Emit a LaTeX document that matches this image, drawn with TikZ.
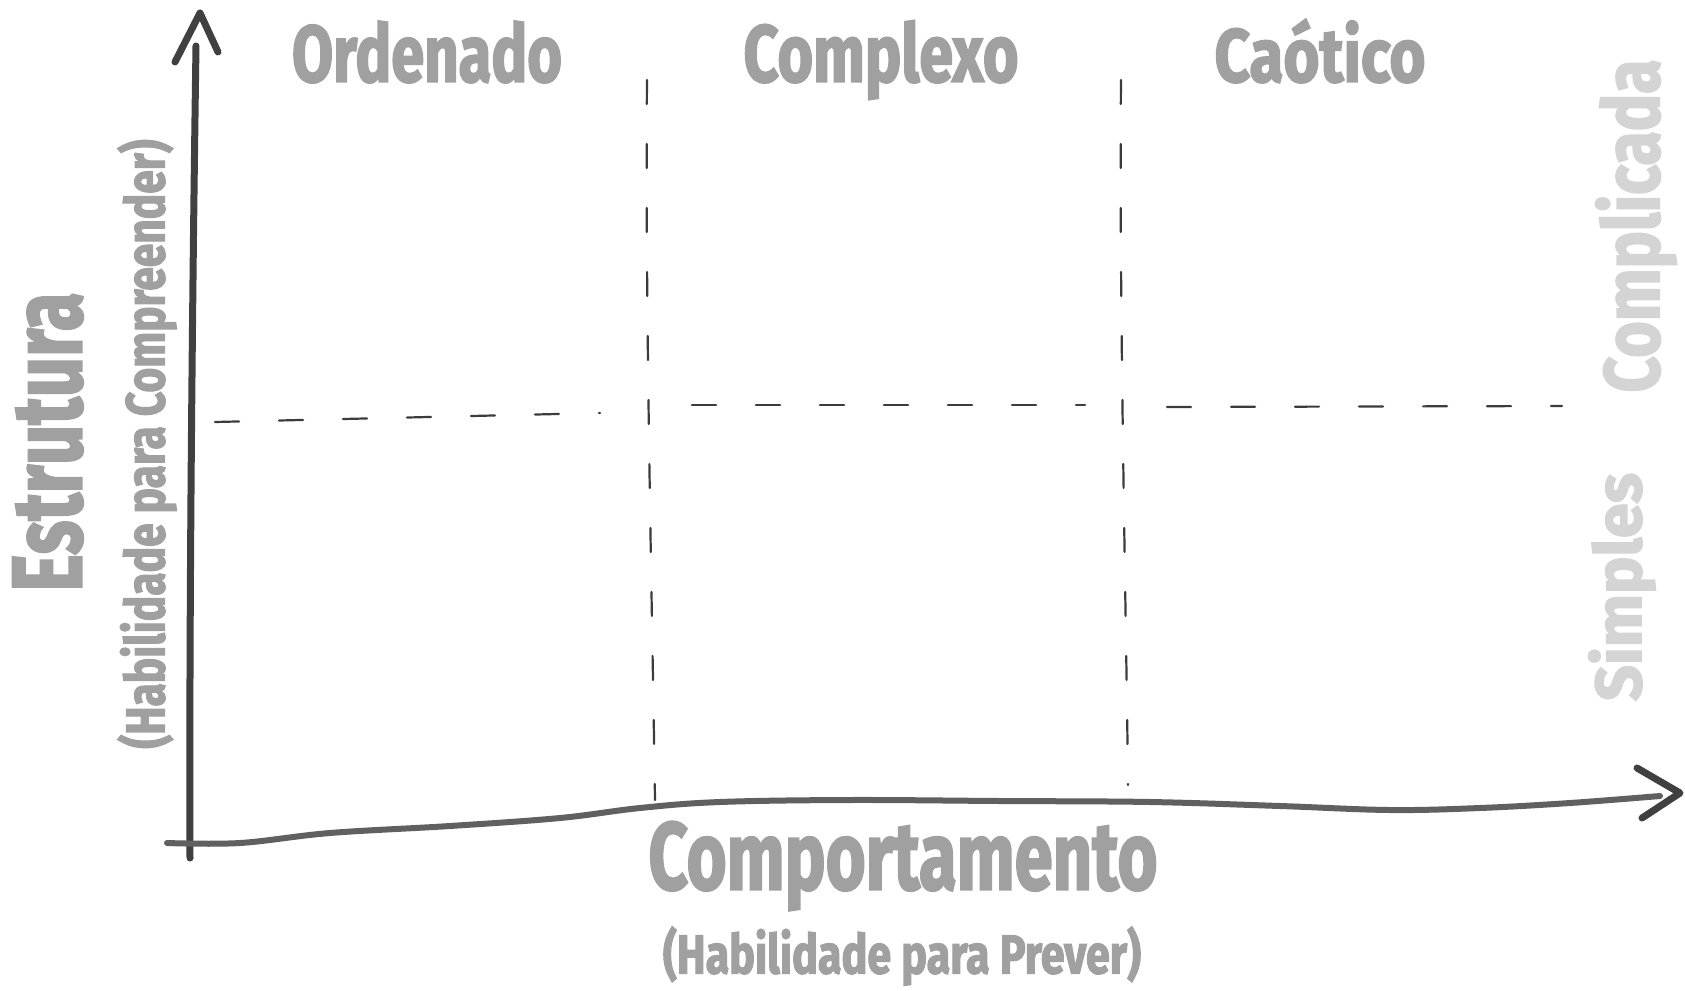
\documentclass[tikz,border=0pt]{standalone}
\usepackage{fontspec}
\usepackage{graphicx}
\newfontfamily\hand{Fira Sans}[BoldFeatures={FakeBold=2.5}]
\definecolor{txtgray}{HTML}{A0A0A0}
\definecolor{lightgray2}{HTML}{D4D4D4}
\definecolor{yaxisgray}{HTML}{404040}
\definecolor{xaxisgray}{HTML}{606060}
\definecolor{dashgray}{HTML}{3C3C3C}
\newcommand{\fitw}[3]{\resizebox*{#1}{#2}{\hand\bfseries #3}}
\tikzset{
  lbl/.style={inner sep=0pt, outer sep=0pt, text=txtgray},
  lbllight/.style={inner sep=0pt, outer sep=0pt, text=lightgray2},
  yaxis/.style={line width=3.5pt, draw=yaxisgray, line cap=round, line join=round},
  xaxis/.style={line width=3pt, draw=xaxisgray, line cap=round, line join=round},
  gridline/.style={line width=1.1pt, draw=dashgray, dash pattern=on 12pt off 20pt, line cap=round}
}
\begin{document}
\begin{tikzpicture}[x=0.5pt,y=-0.5pt]
\fill[white] (0,0) rectangle (1685,990);
\useasboundingbox (0,0) rectangle (1685,990);

% coordinates
\coordinate (ybot) at (190,858);
\coordinate (ytop) at (196,46);
\coordinate (yhead) at (200,13);
\coordinate (yl) at (175,62);
\coordinate (yr) at (218,52);
\coordinate (xstart) at (167,843);
\coordinate (xend) at (1660,796);
\coordinate (xhead) at (1680,793);
\coordinate (xu) at (1637,768);
\coordinate (xd) at (1642,818);

% grid dashed lines
\coordinate (h1a) at (215,422); \coordinate (h1b) at (600,413);
\coordinate (h2a) at (692,405); \coordinate (h2b) at (1085,405);
\coordinate (h3a) at (1167,407); \coordinate (h3b) at (1562,406);
\coordinate (v1a) at (647,80); \coordinate (v1b) at (655,800);
\coordinate (v2a) at (1121,80); \coordinate (v2b) at (1128,785);
\draw[gridline] (h1a) -- (h1b);
\draw[gridline] (h2a) -- (h2b);
\draw[gridline] (h3a) -- (h3b);
\draw[gridline] (v1a) .. controls (645,300) and (652,600) .. (v1b);
\draw[gridline] (v2a) .. controls (1119,300) and (1126,600) .. (v2b);

% axes
\draw[yaxis] (ybot) .. controls (189,600) and (193,250) .. (ytop);
\draw[yaxis] (yl) -- (yhead) -- (yr);
\draw[xaxis] plot[smooth, tension=0.6] coordinates {(xstart) (240,843) (330,833) (450,826) (560,818) (640,808) (720,802) (850,800) (1000,801) (1150,802) (1280,806) (1390,810) (1480,808) (1570,803) (xend)};
\draw[yaxis] (xu) -- (xhead) -- (xd);

% labels
\node[lbl] (ord) at (427,52) {\fitw{135pt}{31pt}{Ordenado}};
\node[lbl] (cpx) at (881,60) {\fitw{137.5pt}{39.5pt}{Complexo}};
\node[lbl] (cao) at (1320,51) {\fitw{105.5pt}{32pt}{Caótico}};
\node[lbl] (comp) at (903,866) {\fitw{254.5pt}{44.5pt}{Comportamento}};
\node[lbl] (prev) at (902,956) {\fitw{239pt}{29.5pt}{(Habilidade para Prever)}};
\node[lbl, rotate=90] (est) at (48,442) {\fitw{149.5pt}{35pt}{Estrutura}};
\node[lbl, rotate=90] (hcomp) at (147,444) {\fitw{304.5pt}{29.5pt}{(Habilidade para Compreender)}};
\node[lbllight, rotate=90] (cmpl) at (1636,226) {\fitw{166.5pt}{40.5pt}{Complicada}};
\node[lbllight, rotate=90] (simp) at (1622,587) {\fitw{114pt}{33.5pt}{Simples}};
\end{tikzpicture}
\end{document}
